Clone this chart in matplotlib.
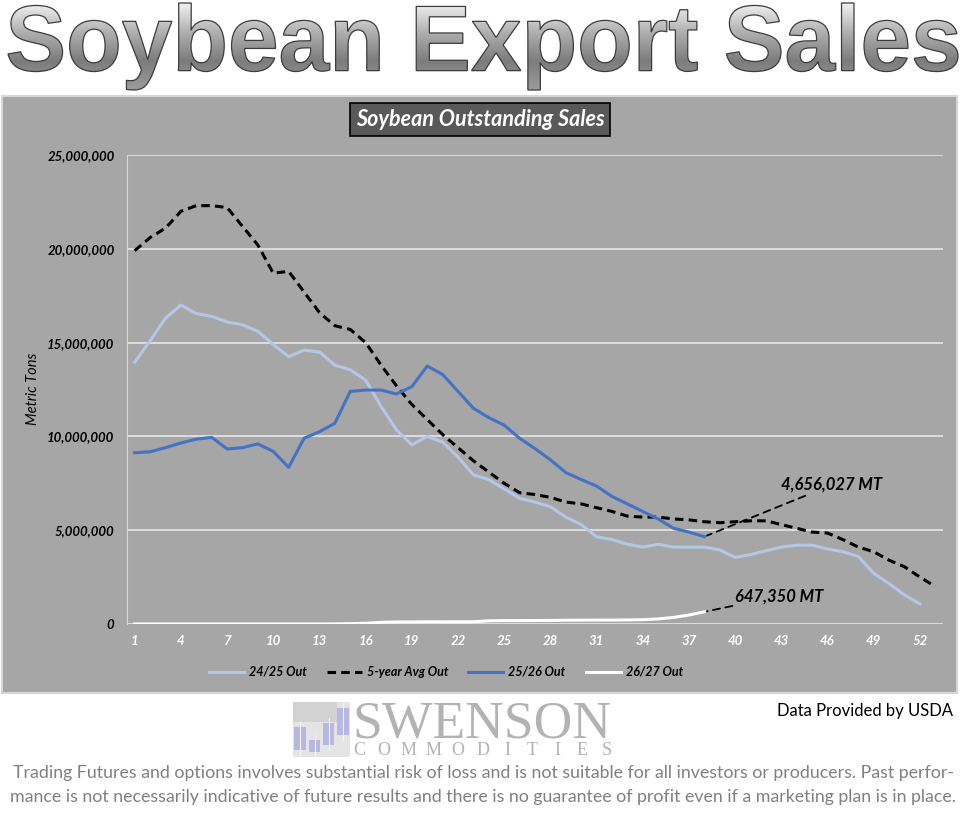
import matplotlib
matplotlib.use('Agg')
import matplotlib.pyplot as plt
import numpy as np
from matplotlib.patches import Rectangle, PathPatch
from matplotlib.textpath import TextPath
from matplotlib.font_manager import FontProperties
from matplotlib.transforms import Affine2D
from matplotlib.colors import LinearSegmentedColormap
from matplotlib.ticker import FuncFormatter

plt.rcParams['font.family'] = ['Lato', 'DejaVu Sans']

# marketing-year weeks (chart has 53 category slots)
weeks = np.arange(1, 54)

# outstanding sales, million metric tons
out_2425 = [13.95, 15.1, 16.3, 17.0, 16.55, 16.4, 16.1, 15.95, 15.6, 14.9,
            14.25, 14.6, 14.5, 13.8, 13.55, 13.0, 11.6, 10.35, 9.55, 10.0,
            9.7, 8.9, 7.95, 7.7, 7.2, 6.7, 6.5, 6.25, 5.7, 5.3,
            4.65, 4.5, 4.25, 4.1, 4.25, 4.1, 4.1, 4.1, 3.95, 3.55,
            3.7, 3.9, 4.1, 4.2, 4.2, 4.0, 3.85, 3.6, 2.7, 2.15,
            1.55, 1.07]
avg_5yr = [19.9, 20.6, 21.1, 22.0, 22.3, 22.3, 22.2, 21.2, 20.2, 18.7,
           18.8, 17.7, 16.6, 15.9, 15.7, 15.0, 13.8, 12.7, 11.7, 10.9,
           10.1, 9.4, 8.7, 8.1, 7.5, 7.0, 6.9, 6.75, 6.5, 6.4,
           6.2, 6.0, 5.75, 5.7, 5.7, 5.6, 5.55, 5.45, 5.4, 5.45,
           5.5, 5.5, 5.3, 5.1, 4.9, 4.85, 4.5, 4.1, 3.85, 3.4,
           3.05, 2.5, 2.0]
out_2526 = [9.13, 9.18, 9.4, 9.65, 9.85, 9.95, 9.33, 9.4, 9.6, 9.2,
            8.35, 9.9, 10.25, 10.7, 12.4, 12.47, 12.47, 12.26, 12.65, 13.75,
            13.3, 12.4, 11.5, 11.0, 10.6, 9.9, 9.35, 8.75, 8.07, 7.7,
            7.35, 6.8, 6.4, 6.0, 5.6, 5.1, 4.9, 4.656027]
out_2627 = [0.0, 0.0, 0.0, 0.0, 0.0, 0.0, 0.0, 0.0, 0.0, 0.0,
            0.0, 0.0, 0.0, 0.005, 0.02, 0.04, 0.09, 0.11, 0.11, 0.115,
            0.115, 0.12, 0.12, 0.17, 0.18, 0.18, 0.185, 0.19, 0.2, 0.205,
            0.21, 0.21, 0.215, 0.23, 0.27, 0.35, 0.48, 0.64735]

series_labels = ['24/25 Out', '5-year Avg Out', '25/26 Out', '26/27 Out']
disclaimer = ['Trading Futures and options involves substantial risk of loss and is not suitable '
              'for all investors or producers. Past perfor-',
              'mance is not necessarily indicative of future results and there is no guarantee '
              'of profit even if a marketing plan is in place.']

out_2425 = np.array(out_2425) * 1e6
avg_5yr = np.array(avg_5yr) * 1e6
out_2526 = np.array(out_2526) * 1e6
out_2627 = np.array(out_2627) * 1e6

W, H = 972, 831


def fx(px):
    return px / W


def fy(py):
    return 1 - py / H


fig = plt.figure(figsize=(W / 100, H / 100), dpi=100)
fig.patch.set_facecolor('white')

# decoration layer in pixel coordinates (drawn underneath the chart)
deco = fig.add_axes([0, 0, 1, 1], zorder=-1)
deco.set_facecolor('none')
deco.axis('off')

# grey chart block
deco.add_patch(Rectangle((2, 96), 955, 597, fc='#A6A6A6', ec='#D6D6D6', lw=1.5))

ax = fig.add_axes([fx(127), fy(624), (943 - 127) / W, (624 - 155) / H], zorder=2)
ax.set_facecolor('none')

lw = 2.2
ax.plot(weeks[:len(out_2425)], out_2425, color='#B4C7E7', lw=lw, label=series_labels[0])
ax.plot(weeks[:len(avg_5yr)], avg_5yr, color='black', lw=lw, ls=(0, (2.8, 1.7)),
        label=series_labels[1])
ax.plot(weeks[:len(out_2526)], out_2526, color='#4472C4', lw=lw, label=series_labels[2])
ax.plot(weeks[:len(out_2627)], out_2627, color='white', lw=lw, label=series_labels[3])

ax.set_xlim(0.5, len(weeks) + 0.5)
ax.set_ylim(0, 25e6)
ax.set_yticks(np.arange(0, 25e6 + 1, 5e6))
ax.yaxis.set_major_formatter(FuncFormatter(lambda v, p: '{:,.0f}'.format(v)))
ax.set_xticks(weeks[::3])
ax.yaxis.grid(True, color='#E6E6E6', lw=1.2)
ax.set_axisbelow(True)
for s in ['top', 'right', 'bottom']:
    ax.spines[s].set_visible(False)
ax.spines['left'].set_color('#D9D9D9')
ax.tick_params(axis='y', length=0, pad=9, labelsize=9.5, labelcolor='black')
ax.tick_params(axis='x', length=0, pad=8, labelsize=9.5, labelcolor='white')
plt.setp(ax.get_xticklabels() + ax.get_yticklabels(), fontweight='bold', fontstyle='italic')

# end-of-series call-outs with dashed leaders
ann_kw = dict(ha='left', va='center', fontsize=12, fontweight='bold', fontstyle='italic',
              color='black')
leader = dict(arrowstyle='-', linestyle=(0, (4, 3)), color='black', lw=1.3,
              shrinkA=0, shrinkB=2)
last = len(out_2526) - 1
ax.annotate('{:,.0f} MT'.format(out_2526[last]), xy=(weeks[last], out_2526[last]),
            xytext=(43.0, 7.41e6), arrowprops=leader, **ann_kw)
last = len(out_2627) - 1
ax.annotate('{:,.0f} MT'.format(out_2627[last]), xy=(weeks[last], out_2627[last]),
            xytext=(40.0, 1.49e6), arrowprops=leader, **ann_kw)

fig.text(fx(480), fy(119.5), 'Soybean Outstanding Sales', ha='center', va='center',
         color='white', fontsize=15.5, fontweight='bold', fontstyle='italic',
         bbox=dict(boxstyle='square,pad=0.28', fc='#595959', ec='black', lw=1.2))
fig.text(fx(33), fy(389), 'Metric Tons', rotation=90, ha='center', va='center',
         fontsize=10.5, fontstyle='italic', color='black')

handles, labels = ax.get_legend_handles_labels()
fig.legend(handles, labels, loc='center', bbox_to_anchor=(fx(446), fy(672)), ncol=4,
           frameon=False, prop=dict(weight='bold', style='italic', size=9),
           handlelength=2.8, handletextpad=0.4, columnspacing=1.6)

# banner heading with grey gradient fill
tp = TextPath((0, 0), 'Soybean Export Sales', size=100,
              prop=FontProperties(family='Liberation Sans', weight='bold'))
bb = tp.get_extents()
tr = Affine2D().translate(-bb.x0, -bb.y1).scale(950 / bb.width, -87 / bb.height).translate(8, 3)
head = PathPatch(tr.transform_path(tp), fc='none', ec='#3c3c3c', lw=0.9)
deco.add_patch(head)
cmap = LinearSegmentedColormap.from_list('hdr', ['#f2f2f2', '#b0b0b0', '#7c7c7c', '#9c9c9c'])
im = deco.imshow(np.linspace(0, 1, 256).reshape(-1, 1), cmap=cmap, extent=(8, 958, 90, 3),
                 aspect='auto', origin='upper', interpolation='bicubic')
im.set_clip_path(head)

# company logo
deco.add_patch(Rectangle((293, 702), 57, 55, fc='#E4E4E4', ec='none'))
deco.add_patch(Rectangle((293, 702), 44, 20, fc='#D2D2D2', ec='none'))
for x0, y0, w, h in [(294, 727, 12, 23), (309, 740, 11, 12), (323, 723, 11, 22), (337, 708, 12, 27)]:
    deco.plot([x0 + w / 2, x0 + w / 2], [y0 - 5, y0 + h + 5], color='#F4F4F4', lw=0.8)
    deco.add_patch(Rectangle((x0, y0), w, h, fc='#B7B7E4', ec='none'))
deco.text(352, 737, 'SWENSON', family='Liberation Serif', fontsize=38.5, color='#B3B3B3',
          ha='left', va='baseline')
for xc, ch in zip(np.linspace(359, 607, 11), 'COMMODITIES'):
    deco.text(xc, 755, ch, family='Liberation Serif', fontsize=13, color='#B3B3B3',
              ha='center', va='baseline')

deco.text(953, 711, 'Data Provided by USDA', ha='right', va='center', fontsize=12,
          color='black')
deco.text(483, 773, disclaimer[0], ha='center', va='center', fontsize=12.8, color='#808080')
deco.text(483, 797, disclaimer[1], ha='center', va='center', fontsize=12.8, color='#808080')

deco.set_xlim(0, W)
deco.set_ylim(H, 0)

fig.savefig('out.png', dpi=100)
